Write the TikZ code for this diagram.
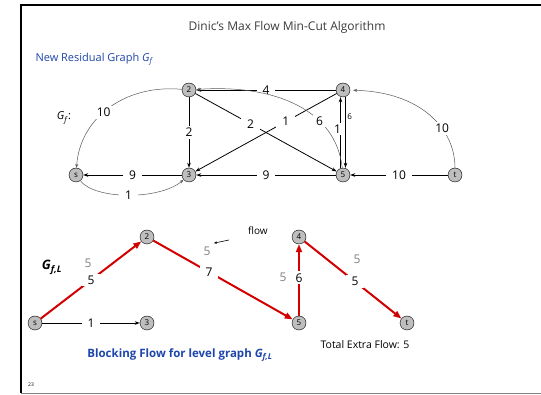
\documentclass[tikz,border=0pt]{standalone}
\usepackage{fontspec}
\setmainfont{Open Sans}
\usetikzlibrary{arrows.meta}
\definecolor{slideblue}{RGB}{30,70,170}
\definecolor{flowred}{RGB}{210,0,0}
\definecolor{vtxgray}{RGB}{190,190,190}
\definecolor{titlegray}{RGB}{60,60,60}

\begin{document}
\begin{tikzpicture}[x=1pt, y=-1pt,
    every node/.style={font=\fontsize{12}{14}\selectfont},
    vtx/.style={circle, draw, thin, fill=vtxgray, minimum size=14pt, inner sep=0pt, font=\fontsize{8}{9}\selectfont},
    res/.style={-{Stealth[length=5pt,width=3.5pt]}, line width=0.8pt},
    curv/.style={-{Stealth[length=4pt,width=3pt]}, gray!70!black, line width=0.5pt},
    blk/.style={-{Triangle[length=8pt,width=6pt]}, flowred, line width=2pt},
    wlab/.style={fill=white, inner xsep=6pt, inner ysep=2pt, text=black},
    flw/.style={text=gray},
]
\fill[white] (0,0) rectangle (541,395);
\useasboundingbox (0,0) rectangle (541,395);

% Frame
\draw[line width=2pt] (21,393) -- (21,5) -- (541,5);
\draw[gray, line width=1pt] (21,393) -- (541,393);

% Titles
\node[text=titlegray, font=\fontsize{12}{14}\selectfont] (title) at (287,27) {Dinic's Max Flow Min-Cut Algorithm};
\node[anchor=west, text=slideblue, font=\fontsize{11}{13}\selectfont] (sub) at (32,59) {New Residual Graph \textit{G}\textsubscript{\textit{f}}};
\node[font=\fontsize{11}{13}\selectfont] (gf) at (64,118) {\textit{G}\textsubscript{\textit{f}}:};

% Residual graph
\node[vtx] (n2) at (189,90) {2};
\node[vtx] (n4) at (343,90) {4};
\node[vtx] (s) at (76,175) {s};
\node[vtx] (n3) at (189,175) {3};
\node[vtx] (n5) at (343,175) {5};
\node[vtx] (t) at (455,175) {t};

\draw[res] (n4) -- node[wlab] {4} (n2);
\draw[res] (n3) -- node[wlab] {9} (s);
\draw[res] (n5) -- node[wlab] {9} (n3);
\draw[res] (t) -- node[wlab] {10} (n5);
\draw[res] (n2) -- node[wlab, inner xsep=3pt] {2} (n3);
\draw[res] (n2) -- node[wlab, pos=0.39] {2} (n5);
\draw[res] (n4) -- node[wlab, pos=0.36] {1} (n3);
\draw[res] ([xshift=-2.5pt]n5.north) -- node[left, fill=white, inner xsep=0.5pt, inner ysep=2pt, xshift=1.5pt, pos=0.55] {1} ([xshift=-2.5pt]n4.south);
\draw[res] ([xshift=2.5pt]n4.south) -- node[right, pos=0.27, inner sep=1.5pt, font=\fontsize{8}{9}\selectfont] {6} ([xshift=2.5pt]n5.north);

% curved residual edges
\draw[curv] (n5) .. controls (336,110) and (275,84) .. node[wlab, inner xsep=3pt, pos=0.33] {6} (n2);
\draw[curv] (n2) .. controls (125,84) and (80,118) .. node[wlab, inner xsep=2pt, pos=0.55] {10} (s);
\draw[curv] (s) .. controls (95,200) and (160,200) .. node[wlab] {1} (n3);
\draw[curv, shorten >=3pt] (t) .. controls (455,128) and (420,92) .. node[wlab, inner xsep=2pt, pos=0.35] {10} (n4);

% Level graph
\node[font=\bfseries\itshape\fontsize{13}{15}\selectfont] (gfl) at (52,267) {G\textsubscript{f,L}};
\node[vtx] (ls) at (35,323) {s};
\node[vtx] (l2) at (147,237) {2};
\node[vtx] (l3) at (147,323) {3};
\node[vtx] (l4) at (299,237) {4};
\node[vtx] (l5) at (299,323) {5};
\node[vtx] (lt) at (407,323) {t};

\draw[blk] (ls) -- node[wlab] {5} (l2);
\draw[blk] (l2) -- node[wlab, pos=0.4] {7} (l5);
\draw[blk] (l5) -- node[wlab, inner xsep=2pt, pos=0.53] {6} (l4);
\draw[blk] (l4) -- node[wlab, pos=0.52] {5} (lt);
\draw[res] (ls) -- node[wlab] {1} (l3);

% flow values
\node[flw] (f2s) at (88,263) {5};
\node[flw] (f25) at (207,251) {5};
\node[flw] (f54) at (283,277) {5};
\node[flw] (f4t) at (357,259) {5};
\node[font=\fontsize{10}{12}\selectfont] (flow) at (258,231) {flow};
\coordinate (fa) at (229,240);
\draw[-{Stealth[length=3pt,width=2.5pt]}, line width=0.6pt] (fa) -- (f25.north east);

\node[font=\fontsize{10.5}{12}\selectfont] (tot) at (365,345) {Total Extra Flow: 5};
\node[text=slideblue, font=\bfseries\fontsize{11.5}{13}\selectfont] (bf) at (180,355) {Blocking Flow for level graph \textit{G}\textsubscript{\textit{f,L}}};
\node[font=\fontsize{5}{6}\selectfont] (pg) at (31,385) {23};
\end{tikzpicture}
\end{document}
